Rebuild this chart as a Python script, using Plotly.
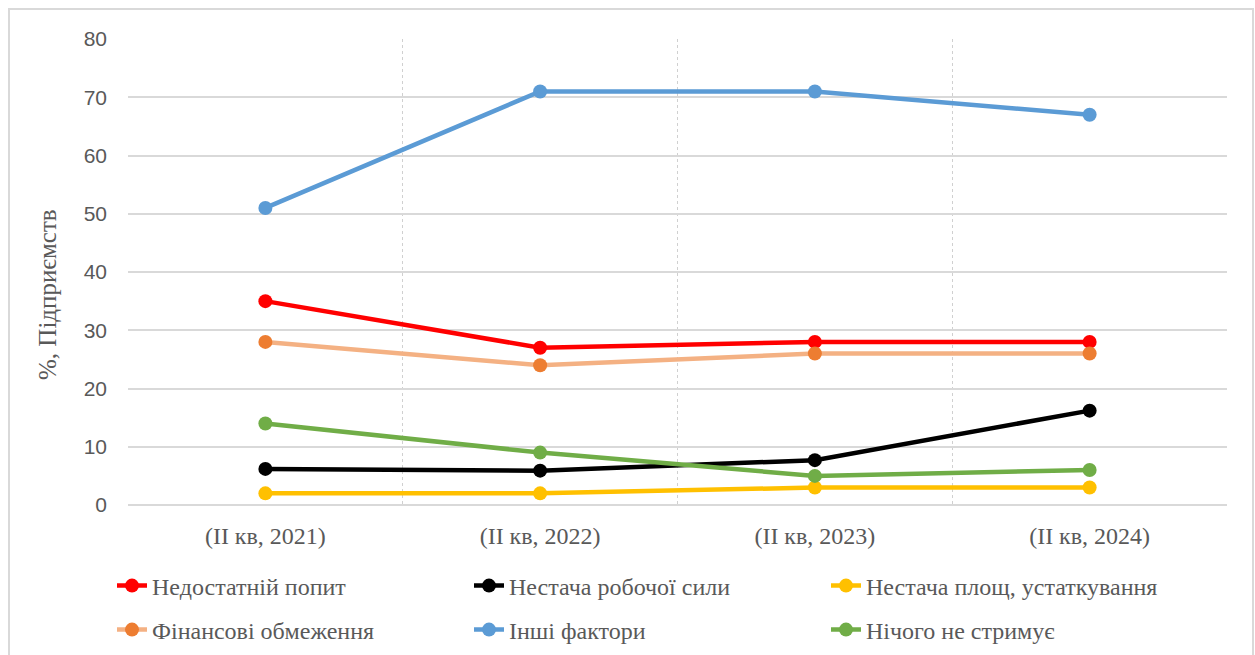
import plotly.graph_objects as go

# Quarter labels and survey shares (% of enterprises)
periods = ["(II кв, 2021)", "(II кв, 2022)", "(II кв, 2023)", "(II кв, 2024)"]

names = [
    "Недостатній попит",
    "Нестача робочої сили",
    "Нестача площ, устаткування",
    "Фінансові обмеження",
    "Інші фактори",
    "Нічого не стримує",
]

insufficient_demand = [35, 27, 28, 28]
labour_shortage = [6.2, 5.9, 7.7, 16.2]
space_equipment = [2, 2, 3, 3]
financial_limits = [28, 24, 26, 26]
other_factors = [51, 71, 71, 67]
nothing_limits = [14, 9, 5, 6]

series = [insufficient_demand, labour_shortage, space_equipment,
          financial_limits, other_factors, nothing_limits]
line_colors = ["#FF0000", "#000000", "#FFC000", "#F4B183", "#5B9BD5", "#70AD47"]
marker_colors = ["#FF0000", "#000000", "#FFC000", "#ED7D31", "#5B9BD5", "#70AD47"]
legend_ids = ["legend", "legend", "legend", "legend2", "legend2", "legend2"]

x_pos = list(range(len(periods)))

fig = go.Figure()
for name, vals, lc, mc, lg in zip(names, series, line_colors, marker_colors, legend_ids):
    fig.add_trace(go.Scatter(
        x=x_pos, y=vals, name=name, mode="lines+markers",
        line=dict(color=lc, width=4.5),
        marker=dict(color=mc, size=14),
        legend=lg,
    ))

W, H = 1255, 655
ml, mr, mt, mb = 128, 28, 39, 150
pw, ph = W - ml - mr, H - mt - mb

def px_x(p):
    return (p - ml) / pw

def px_y(p):
    return (H - mb - p) / ph

text_grey = "#595959"
serif = "Times New Roman"
sans = "Liberation Sans"

legend_common = dict(
    orientation="h", xanchor="left", yanchor="middle",
    entrywidth=312, entrywidthmode="pixels",
    font=dict(family=serif, size=24, color=text_grey),
    bgcolor="rgba(0,0,0,0)", itemclick=False,
)

fig.update_layout(
    width=W, height=H,
    font=dict(family=serif, color=text_grey),
    margin=dict(l=ml, r=mr, t=mt, b=mb, autoexpand=False),
    paper_bgcolor="white", plot_bgcolor="white",
    showlegend=True,
    legend=dict(x=px_x(112), y=px_y(586), **legend_common),
    legend2=dict(x=px_x(112), y=px_y(630), **legend_common),
    xaxis=dict(
        range=[-0.5, len(periods) - 0.5],
        tickmode="array", tickvals=x_pos, ticktext=periods,
        showgrid=False, zeroline=False, showline=False, ticks="",
        ticklabelstandoff=14,
        tickfont=dict(family=serif, size=24, color=text_grey),
        minor=dict(tick0=-0.5, dtick=1, showgrid=True, gridcolor="#D0D0D0",
                   griddash="dot", gridwidth=1.2, ticks=""),
    ),
    yaxis=dict(
        range=[0, 80], dtick=10,
        showgrid=True, gridcolor="#D9D9D9", gridwidth=1.5,
        zeroline=True, zerolinecolor="#D9D9D9", zerolinewidth=1.5,
        showline=False, ticks="", ticklabelstandoff=20,
        tickfont=dict(family=sans, size=21, color=text_grey),
    ),
    annotations=[dict(
        text="%, Підприємств", textangle=-90,
        xref="paper", yref="paper", x=px_x(47), y=px_y(295),
        xanchor="center", yanchor="middle", showarrow=False,
        font=dict(family=serif, size=25, color=text_grey),
    )],
    shapes=[dict(
        type="rect", xref="paper", yref="paper",
        x0=px_x(9), x1=px_x(1253), y0=px_y(662), y1=px_y(9),
        line=dict(color="#D9D9D9", width=2), fillcolor="rgba(0,0,0,0)",
        layer="below",
    )],
)

fig.write_html("out.html")
